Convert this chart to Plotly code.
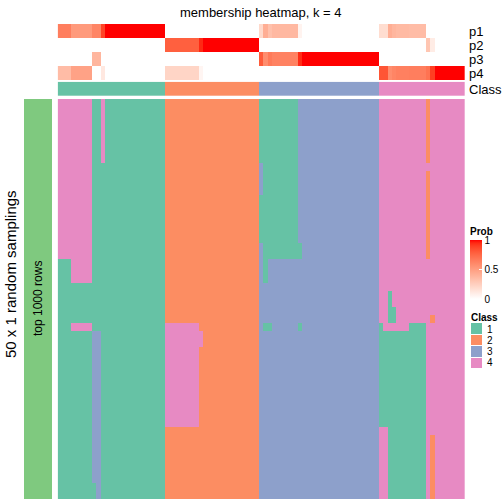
import plotly.graph_objects as go
import numpy as np

# ---------------- data ----------------
classes = [1, 2, 3, 4]
class_labels = ["1", "2", "3", "4"]
class_colors = ["#66C2A5", "#FC8D62", "#8DA0CB", "#E78AC3"]
prob_names = ["p1", "p2", "p3", "p4"]

# consensus class for each of the 95 samples (columns)
col_class = [1] * 25 + [2] * 22 + [3] * 28 + [4] * 20

# membership probabilities per column
p1 = ([0.65] * 3 + [0.52] * 5 + [0.62] * 2 + [0.88] + [1.0] * 14 +
      [0.0] * 22 +
      [0.2, 0.42, 0.33] + [0.37] * 6 + [0.06] + [0.0] * 18 +
      [0.18, 0.18, 0.42, 0.38, 0.36, 0.36, 0.36, 0.35, 0.35, 0.35, 0.35] + [0.0] * 9)
p2 = ([0.0] * 25 +
      [0.78] * 8 + [0.95] + [1.0] * 13 +
      [0.0] * 28 +
      [0.0] * 11 + [0.3, 0.1] + [0.0] * 7)
p3 = ([0.0] * 8 + [0.38] * 2 + [0.0] * 15 +
      [0.0] * 22 +
      [0.8, 0.58, 0.67] + [0.63] * 6 + [0.94] + [1.0] * 18 +
      [0.0] * 20)
p4 = ([0.35] * 3 + [0.48] * 5 + [0.0] * 2 + [0.12] + [0.0] * 14 +
      [0.22] * 8 + [0.05] + [0.0] * 13 +
      [0.0] * 28 +
      [0.82, 0.82, 0.58, 0.62, 0.64, 0.64, 0.64, 0.65, 0.65, 0.65, 0.65, 0.7, 0.9] + [1.0] * 7)

n_samplings = 50
# deviations of individual samplings from the consensus class:
# (first sampling, last sampling, first sample, last sample, class)
overrides = [
    (0, 19, 0, 7, 4), (20, 22, 3, 7, 4), (0, 7, 10, 10, 4), (28, 28, 3, 7, 4),
    (29, 47, 8, 9, 3), (48, 49, 9, 9, 3),
    (28, 40, 25, 32, 4), (29, 30, 33, 33, 4),
    (0, 7, 47, 55, 1), (8, 11, 48, 55, 1), (12, 17, 47, 55, 1), (18, 19, 48, 56, 1),
    (20, 22, 48, 48, 1), (28, 28, 48, 49, 1), (28, 28, 56, 56, 1),
    (0, 7, 86, 86, 2), (9, 19, 86, 86, 2), (24, 27, 77, 77, 1), (26, 27, 78, 78, 1),
    (27, 27, 87, 87, 2), (28, 28, 75, 75, 1), (28, 28, 82, 85, 1),
    (29, 40, 75, 85, 1), (41, 49, 77, 85, 1), (42, 49, 87, 87, 2),
]

# ---------------- helpers ----------------
W = H = 504
n_cols = len(col_class)
FONT = "Liberation Sans, Arial, sans-serif"


def px_x(v):
    return v / W


def px_y(v):
    return 1 - v / H


def srgb_to_lab(c):
    c = np.array(c, float) / 255
    c = np.where(c > 0.04045, ((c + 0.055) / 1.055) ** 2.4, c / 12.92)
    M = np.array([[0.4124, 0.3576, 0.1805], [0.2126, 0.7152, 0.0722], [0.0193, 0.1192, 0.9505]])
    xyz = M @ c / np.array([0.95047, 1.0, 1.08883])
    f = np.where(xyz > 0.008856, np.cbrt(xyz), 7.787 * xyz + 16 / 116)
    return np.array([116 * f[1] - 16, 500 * (f[0] - f[1]), 200 * (f[1] - f[2])])


def lab_to_srgb(lab):
    L, a, b = lab
    fy = (L + 16) / 116
    fx = fy + a / 500
    fz = fy - b / 200
    f = np.array([fx, fy, fz])
    xyz = np.where(f ** 3 > 0.008856, f ** 3, (f - 16 / 116) / 7.787) * np.array([0.95047, 1.0, 1.08883])
    Mi = np.array([[3.2406, -1.5372, -0.4986], [-0.9689, 1.8758, 0.0415], [0.0557, -0.2040, 1.0570]])
    c = Mi @ xyz
    c = np.where(c > 0.0031308, 1.055 * np.clip(c, 0, None) ** (1 / 2.4) - 0.055, 12.92 * c)
    c = np.clip(np.round(c * 255), 0, 255).astype(int)
    return "rgb(%d,%d,%d)" % tuple(c)


lab_w = srgb_to_lab([255, 255, 255])
lab_r = srgb_to_lab([255, 0, 0])
prob_scale = [[t, lab_to_srgb(lab_w + (lab_r - lab_w) * t)] for t in np.linspace(0, 1, 21)]

class_scale = []
for i, c in enumerate(class_colors):
    class_scale.append([i / 4, c])
    class_scale.append([(i + 1) / 4, c])

# build sampling matrix
mat = np.tile(np.array(col_class), (n_samplings, 1))
for r0, r1, c0, c1, k in overrides:
    mat[r0:r1 + 1, c0:c1 + 1] = k

fig = go.Figure()

# main heatmap
fig.add_trace(go.Heatmap(z=mat, colorscale=class_scale, zmin=0.5, zmax=4.5,
                         showscale=False, hoverinfo="skip", xaxis="x", yaxis="y"))
# probability annotation
fig.add_trace(go.Heatmap(z=[p1, p2, p3, p4], colorscale=prob_scale, zmin=0, zmax=1,
                         hoverinfo="skip", xaxis="x2", yaxis="y2",
                         colorbar=dict(
                             title=dict(text="<b>Prob</b>", side="top",
                                        font=dict(size=10, family=FONT, color="black")),
                             x=px_x(470), xanchor="left", xpad=0,
                             y=px_y(224), yanchor="top", ypad=0,
                             len=75, lenmode="pixels", thickness=12, thicknessmode="pixels",
                             tickvals=[0, 0.5, 1], ticktext=["0", "0.5", "1"],
                             ticks="inside", tickcolor="white", ticklen=3,
                             tickfont=dict(size=10, family=FONT, color="black"),
                             outlinewidth=0)))
# class annotation
fig.add_trace(go.Heatmap(z=[col_class], colorscale=class_scale, zmin=0.5, zmax=4.5,
                         showscale=False, hoverinfo="skip", xaxis="x3", yaxis="y3"))
# left row-group bar
fig.add_trace(go.Heatmap(z=[[1]], colorscale=[[0, "#7FC97F"], [1, "#7FC97F"]],
                         showscale=False, hoverinfo="skip", xaxis="x4", yaxis="y4"))
# class legend keys
fig.add_trace(go.Heatmap(z=[[c] for c in classes], colorscale=class_scale, zmin=0.5, zmax=4.5,
                         showscale=False, hoverinfo="skip", xaxis="x5", yaxis="y5", ygap=1))

hx = [px_x(57.67), px_x(465)]
ax = dict(visible=False, showgrid=False, zeroline=False, fixedrange=True)
layout = dict(
    width=W, height=H, margin=dict(l=0, r=0, t=0, b=0),
    paper_bgcolor="white", plot_bgcolor="white", showlegend=False,
    font=dict(family=FONT, color="black"),
    xaxis=dict(ax, domain=hx, range=[-0.5, n_cols - 0.5]),
    yaxis=dict(ax, domain=[px_y(499), px_y(99)], range=[n_samplings - 0.5, -0.5]),
    xaxis2=dict(ax, domain=hx, range=[-0.5, n_cols - 0.5]),
    yaxis2=dict(ax, domain=[px_y(80), px_y(24)], range=[3.5, -0.5]),
    xaxis3=dict(ax, domain=hx, range=[-0.5, n_cols - 0.5]),
    yaxis3=dict(ax, domain=[px_y(96), px_y(81.7)], range=[0.5, -0.5]),
    xaxis4=dict(ax, domain=[px_x(24), px_x(52)], range=[-0.5, 0.5]),
    yaxis4=dict(ax, domain=[px_y(499), px_y(99)], range=[0.5, -0.5]),
    xaxis5=dict(ax, domain=[px_x(471), px_x(482)], range=[-0.5, 0.5]),
    yaxis5=dict(ax, domain=[px_y(369), px_y(323)], range=[3.5, -0.5]),
)
fig.update_layout(**layout)

ann = []
ann.append(dict(text="membership heatmap, k = 4", x=px_x(261.3), y=px_y(12), xref="paper", yref="paper",
                showarrow=False, xanchor="center", yanchor="middle", font=dict(size=13)))
for i, nm in enumerate(prob_names):
    ann.append(dict(text=nm, x=px_x(467), y=px_y(31 + 14 * i), xref="paper", yref="paper",
                    showarrow=False, xanchor="left", yanchor="middle", font=dict(size=13)))
ann.append(dict(text="Class", x=px_x(467), y=px_y(89), xref="paper", yref="paper",
                showarrow=False, xanchor="left", yanchor="middle", font=dict(size=13)))
ann.append(dict(text="top 1000 rows", x=px_x(38), y=px_y(299), xref="paper", yref="paper",
                showarrow=False, textangle=-90, xanchor="center", yanchor="middle", font=dict(size=12)))
ann.append(dict(text="50 x 1 random samplings", x=px_x(10), y=px_y(274), xref="paper", yref="paper",
                showarrow=False, textangle=-90, xanchor="center", yanchor="middle", font=dict(size=15)))
ann.append(dict(text="<b>Class</b>", x=px_x(469), y=px_y(317), xref="paper", yref="paper",
                showarrow=False, xanchor="left", yanchor="middle", font=dict(size=10)))
for i, lab in enumerate(class_labels):
    ann.append(dict(text=lab, x=px_x(485), y=px_y(329 + 11.3 * i), xref="paper", yref="paper",
                    showarrow=False, xanchor="left", yanchor="middle", font=dict(size=10)))
fig.update_layout(annotations=ann)

fig.write_html("out.html", config={"displayModeBar": False},
               post_script="document.body.style.margin='0';document.body.style.padding='0';")
